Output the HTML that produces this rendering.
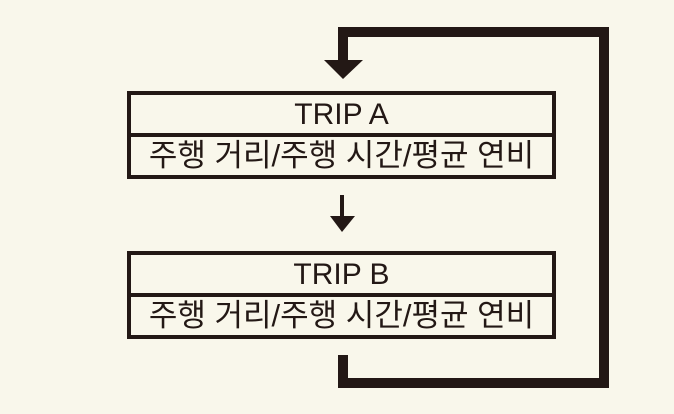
<!DOCTYPE html>
<html><head><meta charset="utf-8"><style>
html,body{margin:0;padding:0;}
body{width:674px;height:414px;background:#f9f7eb;position:relative;overflow:hidden;font-family:"Liberation Sans","Noto Sans CJK KR","NanumGothic",sans-serif;color:#231815;}
.b{position:absolute;background:#231815;}
.box{position:absolute;left:127px;width:421px;border:4px solid #231815;}
.r{height:38px;line-height:40px;text-align:center;}
.t1{font-size:30px;}
.t2{font-size:31px;border-top:4px solid #231815;height:38px;line-height:38px;white-space:nowrap;}
</style></head><body>
<div class="b" style="left:338px;top:27px;width:271px;height:10px"></div>
<div class="b" style="left:338px;top:27px;width:10px;height:36px"></div>
<div class="b" style="left:599px;top:27px;width:10px;height:361px"></div>
<div class="b" style="left:338px;top:378px;width:271px;height:10px"></div>
<div class="b" style="left:338px;top:355px;width:10px;height:33px"></div>
<svg style="position:absolute;left:0;top:0" width="674" height="414">
<polygon points="324,60 363,60 343,79" fill="#231815"/>
<rect x="340" y="195" width="4" height="23" fill="#231815"/>
<polygon points="330,216 355,216 342,232" fill="#231815"/>
</svg>
<div class="box" style="top:91px"><div class="r t1">TRIP A</div><div class="t2" style="text-align:center">주행 거리/주행 시간/평균 연비</div></div>
<div class="box" style="top:251px"><div class="r t1">TRIP B</div><div class="t2" style="text-align:center">주행 거리/주행 시간/평균 연비</div></div>
</body></html>
